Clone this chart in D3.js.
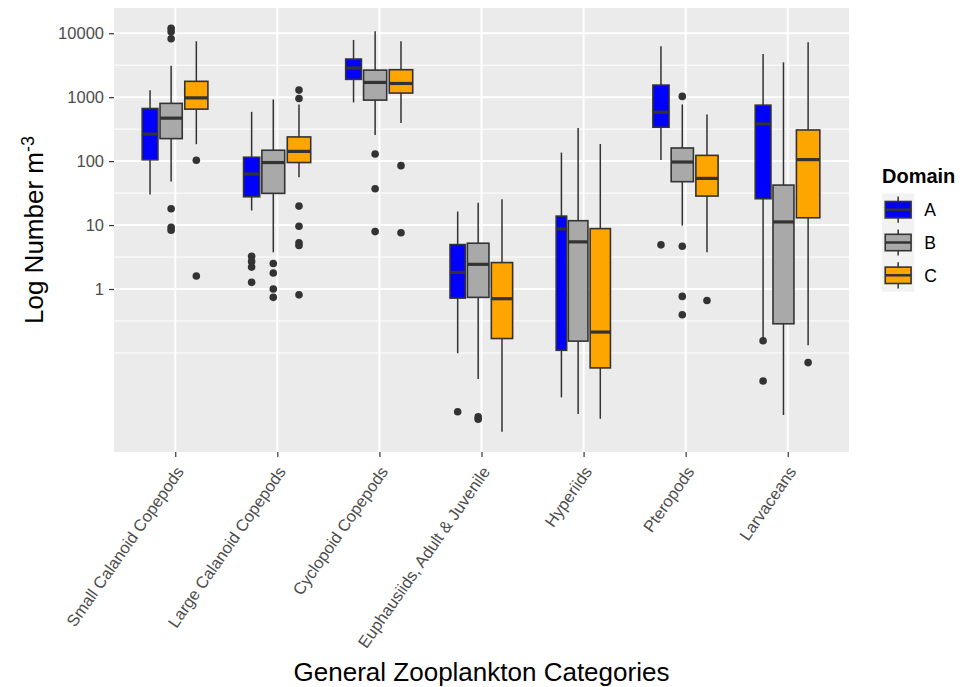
<!DOCTYPE html>
<html>
<head>
<meta charset="utf-8">
<script src="https://cdn.jsdelivr.net/npm/d3@7"></script>
<style>
  body { margin: 0; background: #fff; }
  text { font-family: "Liberation Sans", Arial, sans-serif; }
</style>
</head>
<body>
<svg id="chart" width="973" height="687"></svg>
<script>
// categories on the x axis
const categories = [
  "Small Calanoid Copepods",
  "Large Calanoid Copepods",
  "Cyclopoid Copepods",
  "Euphausiids, Adult & Juvenile",
  "Hyperiids",
  "Pteropods",
  "Larvaceans"
];
const domains = ["A", "B", "C"];
const yTicks = [1, 10, 100, 1000, 10000];

// box stats per category: [lower whisker, q1, median, q3, upper whisker]
const statsA = [
  [30, 105, 265, 665, 1280],
  [16.9, 27.7, 63, 115, 590],
  [828, 1900, 2860, 3950, 7850],
  [0.099, 0.72, 1.82, 4.95, 16.3],
  [0.0202, 0.11, 8.7, 13.8, 136],
  [104, 339, 583, 1545, 6250],
  [0.17, 25.8, 382, 750, 4730]
];
const statsB = [
  [48, 225, 470, 800, 3100],
  [3.75, 31.3, 95, 148, 920],
  [257, 900, 1700, 2650, 10700],
  [0.039, 0.74, 2.43, 5.2, 22.3],
  [0.0111, 0.153, 5.46, 11.7, 330],
  [9.8, 47.7, 96.8, 160.5, 770],
  [0.0107, 0.286, 11.2, 42.2, 3510]
];
const statsC = [
  [184, 650, 975, 1770, 7500],
  [55.7, 95, 142, 239, 770],
  [396, 1160, 1640, 2690, 7500],
  [0.00584, 0.168, 0.705, 2.59, 25.4],
  [0.00934, 0.0583, 0.212, 8.8, 185],
  [3.75, 28.4, 53.7, 123, 536],
  [0.132, 13, 105.6, 307, 7230]
];

// outlying points
const outliersA = [
  [],
  [3.25, 2.7, 2.2, 1.27],
  [],
  [0.012],
  [],
  [4.9],
  [0.155, 0.0364]
];
const outliersB = [
  [12000, 10600, 8200, 18, 9.2, 8.3],
  [2.5, 1.78, 1.0, 0.74],
  [129, 37, 7.9],
  [0.01, 0.0092],
  [],
  [1028, 4.66, 0.766, 0.395],
  []
];
const outliersC = [
  [103, 1.6],
  [1290, 956, 19.8, 9.6, 5.3, 4.8, 0.81],
  [85, 7.6],
  [],
  [],
  [0.662],
  [0.0706]
];

// sample sizes (box width ~ sqrt(n))
const countsA = [18, 19, 18, 17, 8, 19, 18];
const countsB = [36, 38, 39, 34, 28, 36, 32];
const countsC = [39, 40, 40, 33, 30, 36, 40];

const fills = ["#0000FF", "#A9A9A9", "#FFA500"];

const series = domains.map((d, j) => ({
  key: d,
  fill: fills[j],
  stats: [statsA, statsB, statsC][j],
  outliers: [outliersA, outliersB, outliersC][j],
  counts: [countsA, countsB, countsC][j]
}));

const margin = { top: 8, right: 124, bottom: 235, left: 114 };
const width = 973 - margin.left - margin.right;
const height = 687 - margin.top - margin.bottom;

const svg = d3.select("#chart");
svg.append("rect").attr("width", 973).attr("height", 687).attr("fill", "#fff");
const g = svg.append("g").attr("transform", `translate(${margin.left},${margin.top})`);

// scales
const x = d3.scalePoint().domain(categories).range([0, width]).padding(0.6);

const allVals = series.flatMap(s => s.stats.flat().concat(s.outliers.flat()));
const lo = Math.log10(d3.min(allVals)), hi = Math.log10(d3.max(allVals));
const pad = (hi - lo) * 0.05;
const y = d3.scaleLog().domain([10 ** (lo - pad), 10 ** (hi + pad)]).range([height, 0]);

const allCounts = series.flatMap(s => s.counts);
const slot = d3.scaleSqrt().domain([0, d3.max(allCounts)]).range([0, x.step() * 0.255]);

// panel
g.append("rect").attr("width", width).attr("height", height).attr("fill", "#EBEBEB");

// minor grid: midpoints between major breaks, plus one step below
const logT = yTicks.map(Math.log10);
const ext = [logT[0] - (logT[1] - logT[0])].concat(logT);
const minor = [];
for (let i = 0; i < ext.length - 1; i++) {
  minor.push(ext[i], (ext[i] + ext[i + 1]) / 2);
}
const [d0, d1] = y.domain().map(Math.log10);
g.selectAll(".minor")
  .data(minor.filter(m => m > d0 && m < d1 && !logT.includes(m)))
  .enter().append("line")
  .attr("x1", 0).attr("x2", width)
  .attr("y1", m => y(10 ** m)).attr("y2", m => y(10 ** m))
  .attr("stroke", "#fff").attr("stroke-width", 1);

g.selectAll(".major")
  .data(yTicks)
  .enter().append("line")
  .attr("x1", 0).attr("x2", width)
  .attr("y1", d => y(d)).attr("y2", d => y(d))
  .attr("stroke", "#fff").attr("stroke-width", 2);

g.selectAll(".vgrid")
  .data(categories)
  .enter().append("line")
  .attr("x1", d => x(d)).attr("x2", d => x(d))
  .attr("y1", 0).attr("y2", height)
  .attr("stroke", "#fff").attr("stroke-width", 2);

// dodge boxes side by side within each category
const boxes = [];
categories.forEach((c, i) => {
  const widths = series.map(s => slot(s.counts[i]));
  let start = x(c) - d3.sum(widths) / 2;
  series.forEach((s, j) => {
    const w = widths[j];
    const [wlo, q1, med, q3, whi] = s.stats[i];
    boxes.push({ cx: start + w / 2, w: w * 0.9, wlo, q1, med, q3, whi, out: s.outliers[i], fill: s.fill });
    start += w;
  });
});

const bg = g.selectAll(".box").data(boxes).enter().append("g");

bg.append("line")
  .attr("x1", d => d.cx).attr("x2", d => d.cx)
  .attr("y1", d => y(d.whi)).attr("y2", d => y(d.q3))
  .attr("stroke", "#333").attr("stroke-width", 1.5);
bg.append("line")
  .attr("x1", d => d.cx).attr("x2", d => d.cx)
  .attr("y1", d => y(d.q1)).attr("y2", d => y(d.wlo))
  .attr("stroke", "#333").attr("stroke-width", 1.5);
bg.append("rect")
  .attr("x", d => d.cx - d.w / 2).attr("width", d => d.w)
  .attr("y", d => y(d.q3)).attr("height", d => y(d.q1) - y(d.q3))
  .attr("fill", d => d.fill).attr("stroke", "#333").attr("stroke-width", 1.6);
bg.append("line")
  .attr("x1", d => d.cx - d.w / 2).attr("x2", d => d.cx + d.w / 2)
  .attr("y1", d => y(d.med)).attr("y2", d => y(d.med))
  .attr("stroke", "#333").attr("stroke-width", 3.2);
bg.selectAll("circle")
  .data(d => d.out.map(v => ({ cx: d.cx, v })))
  .enter().append("circle")
  .attr("cx", d => d.cx).attr("cy", d => y(d.v)).attr("r", 3.8)
  .attr("fill", "#333");

// y axis
const yAxis = g.append("g")
  .call(d3.axisLeft(y).tickValues(yTicks).tickFormat(d3.format("d")).tickSize(5).tickPadding(5));
yAxis.select(".domain").remove();
yAxis.selectAll("line").attr("stroke", "#333").attr("stroke-width", 1.2);
yAxis.selectAll("text").attr("fill", "#4D4D4D").style("font-size", "16.5px")
  .style("font-family", '"Liberation Sans", Arial, sans-serif');

// x axis
const xAxis = g.append("g").attr("transform", `translate(0,${height})`)
  .call(d3.axisBottom(x).tickSize(5).tickPadding(5));
xAxis.select(".domain").remove();
xAxis.selectAll("line").attr("stroke", "#333").attr("stroke-width", 1.2);
xAxis.selectAll("text")
  .attr("fill", "#4D4D4D").style("font-size", "16.5px")
  .style("font-family", '"Liberation Sans", Arial, sans-serif')
  .attr("text-anchor", "end")
  .attr("x", 0).attr("y", 0).attr("dy", "0.72em")
  .attr("transform", "translate(-1,13) rotate(-55)");

// axis titles
svg.append("text")
  .attr("x", margin.left + width / 2).attr("y", 681)
  .attr("text-anchor", "middle").style("font-size", "26px").attr("fill", "#000")
  .text("General Zooplankton Categories");

const yt = svg.append("text")
  .attr("transform", `translate(43,${margin.top + height / 2}) rotate(-90)`)
  .attr("text-anchor", "middle").style("font-size", "26px").attr("fill", "#000");
yt.append("tspan").text("Log Number m");
yt.append("tspan").attr("dy", "-0.5em").style("font-size", "18px").text("-3");

// legend
const leg = svg.append("g").attr("transform", "translate(882,0)");
leg.append("text").attr("x", 0).attr("y", 182.7)
  .style("font-size", "20px").style("font-weight", "bold").attr("fill", "#000")
  .text("Domain");
const keyH = 32.8, keyW = 32.3, keyTop = 193.3;
const keys = leg.selectAll(".key").data(series).enter().append("g")
  .attr("transform", (d, i) => `translate(0,${keyTop + i * keyH})`);
keys.append("rect").attr("width", keyW).attr("height", keyH).attr("fill", "#F2F2F2");
keys.append("line")
  .attr("x1", keyW / 2).attr("x2", keyW / 2)
  .attr("y1", keyH * 0.1).attr("y2", keyH * 0.9)
  .attr("stroke", "#333").attr("stroke-width", 1.5);
keys.append("rect")
  .attr("x", keyW * 0.1).attr("width", keyW * 0.8)
  .attr("y", keyH * 0.25).attr("height", keyH * 0.5)
  .attr("fill", d => d.fill).attr("stroke", "#333").attr("stroke-width", 1.6);
keys.append("line")
  .attr("x1", keyW * 0.1).attr("x2", keyW * 0.9)
  .attr("y1", keyH / 2).attr("y2", keyH / 2)
  .attr("stroke", "#333").attr("stroke-width", 2.5);
keys.append("text")
  .attr("x", 42.3).attr("y", keyH / 2).attr("dy", "0.36em")
  .style("font-size", "17.5px").attr("fill", "#000")
  .text(d => d.key);
</script>
</body>
</html>
